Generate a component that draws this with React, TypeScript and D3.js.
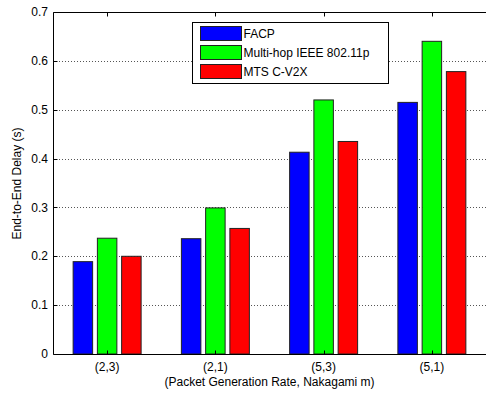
import React, { useRef, useEffect } from 'react';
import * as d3 from 'd3';

const categories = ['(2,3)', '(2,1)', '(5,3)', '(5,1)'];
const seriesNames = ['FACP', 'Multi-hop IEEE 802.11p', 'MTS C-V2X'];
const facp = [0.189, 0.236, 0.413, 0.515];
const multiHop = [0.237, 0.299, 0.520, 0.640];
const mts = [0.200, 0.257, 0.435, 0.578];
const colors = ['#0000ff', '#00ff00', '#ff0000'];
const yTicks = [0, 0.1, 0.2, 0.3, 0.4, 0.5, 0.6, 0.7];

const App: React.FC = () => {
  const ref = useRef<SVGSVGElement | null>(null);

  useEffect(() => {
    if (!ref.current) return;
    const svg = d3.select(ref.current);
    svg.selectAll('*').remove();

    const width = 486;
    const height = 393;
    const margin = { top: 12, right: 0, bottom: 39, left: 53 };
    const font = 'Liberation Sans, Arial, sans-serif';

    const series = [facp, multiHop, mts];

    // MATLAB-style category axis: xlim [0.5, 4.5]
    const x = d3.scaleLinear().domain([0.5, 4.5]).range([margin.left, margin.left + 433]);
    const y = d3.scaleLinear().domain([0, 0.7]).range([height - margin.bottom, margin.top]);

    const barW = 0.18;
    const step = 0.224;

    // grid
    svg.append('g')
      .selectAll('line')
      .data(yTicks.slice(1, -1))
      .join('line')
      .attr('x1', margin.left)
      .attr('x2', width)
      .attr('y1', d => Math.round(y(d)) + 0.5)
      .attr('y2', d => Math.round(y(d)) + 0.5)
      .attr('stroke', '#555')
      .attr('stroke-width', 1)
      .attr('stroke-dasharray', '1,2');

    // bars
    series.forEach((vals, si) => {
      svg.append('g')
        .selectAll('rect')
        .data(vals)
        .join('rect')
        .attr('x', (d, i) => x(i + 1 + (si - 1) * step - barW / 2))
        .attr('width', x(barW) - x(0))
        .attr('y', d => y(d))
        .attr('height', d => y(0) - y(d))
        .attr('fill', colors[si])
        .attr('stroke', '#222')
        .attr('stroke-width', 1);
    });

    // axes frame
    const y0 = Math.round(y(0)) + 0.5;
    const yTop = Math.round(y(0.7)) + 0.5;
    const xl = margin.left + 0.5;
    const axis = svg.append('g').attr('stroke', '#000').attr('stroke-width', 1);
    axis.append('line').attr('x1', xl).attr('x2', width).attr('y1', y0).attr('y2', y0);
    axis.append('line').attr('x1', xl).attr('x2', width).attr('y1', yTop).attr('y2', yTop);
    axis.append('line').attr('x1', xl).attr('x2', xl).attr('y1', yTop).attr('y2', y0);

    // y ticks
    yTicks.forEach(t => {
      const yy = Math.round(y(t)) + 0.5;
      axis.append('line').attr('x1', xl).attr('x2', xl + 4).attr('y1', yy).attr('y2', yy);
      svg.append('text')
        .attr('x', margin.left - 5)
        .attr('y', y(t))
        .attr('dy', '0.35em')
        .attr('text-anchor', 'end')
        .attr('font-family', font)
        .attr('font-size', 12)
        .attr('fill', '#000')
        .text(String(t));
    });

    // x ticks
    categories.forEach((c, i) => {
      const xx = Math.round(x(i + 1)) + 0.5;
      axis.append('line').attr('x1', xx).attr('x2', xx).attr('y1', yTop).attr('y2', yTop + 4);
      axis.append('line').attr('x1', xx).attr('x2', xx).attr('y1', y0).attr('y2', y0 - 4);
      svg.append('text')
        .attr('x', x(i + 1))
        .attr('y', y0 + 16)
        .attr('text-anchor', 'middle')
        .attr('font-family', font)
        .attr('font-size', 12)
        .attr('fill', '#000')
        .text(c);
    });

    // axis labels
    svg.append('text')
      .attr('x', (margin.left + width) / 2)
      .attr('y', y0 + 31)
      .attr('text-anchor', 'middle')
      .attr('font-family', font)
      .attr('font-size', 12)
      .attr('fill', '#000')
      .text('(Packet Generation Rate, Nakagami m)');

    svg.append('text')
      .attr('transform', `translate(21,${(yTop + y0) / 2}) rotate(-90)`)
      .attr('text-anchor', 'middle')
      .attr('font-family', font)
      .attr('font-size', 12)
      .attr('fill', '#000')
      .text('End-to-End Delay (s)');

    // legend
    const lg = svg.append('g').attr('transform', 'translate(192.5,22.5)');
    lg.append('rect')
      .attr('width', 196)
      .attr('height', 61)
      .attr('fill', '#fff')
      .attr('stroke', '#000');
    seriesNames.forEach((name, i) => {
      lg.append('rect')
        .attr('x', 8)
        .attr('y', 4 + i * 19)
        .attr('width', 41)
        .attr('height', 14)
        .attr('fill', colors[i])
        .attr('stroke', '#222');
      lg.append('text')
        .attr('x', 51)
        .attr('y', 11 + i * 19)
        .attr('dy', '0.35em')
        .attr('font-family', font)
        .attr('font-size', 12)
        .attr('fill', '#000')
        .text(name);
    });
  }, []);

  return (
    <svg
      ref={ref}
      width={486}
      height={393}
      style={{ position: 'absolute', left: 0, top: 0, background: '#fff' }}
    />
  );
};

export default App;
